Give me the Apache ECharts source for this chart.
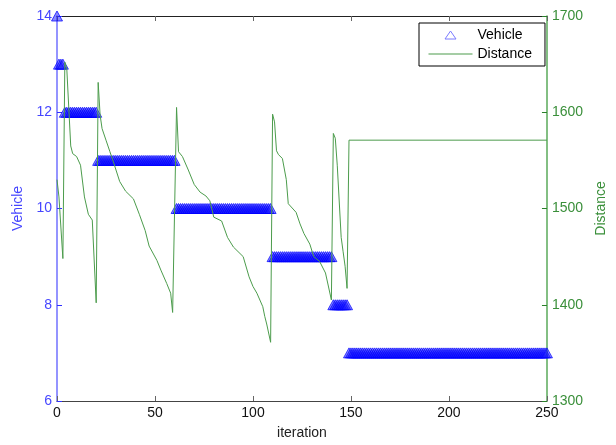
<!DOCTYPE html>
<html>
<head>
<meta charset="utf-8">
<script src="https://cdn.jsdelivr.net/npm/echarts@6/dist/echarts.min.js"></script>
<style>html,body{margin:0;padding:0;background:#fff}#c{width:616px;height:445px}</style>
</head>
<body>
<div id="c"></div>
<script>
// Vehicle step runs: [first iteration, last iteration, number of vehicles]
var vehicleRunStart = [0, 1, 4, 21, 61, 110, 141, 149];
var vehicleRunEnd   = [0, 3, 20, 60, 109, 140, 148, 250];
var vehicleRunValue = [14, 13, 12, 11, 10, 9, 8, 7];

// Distance curve
var distIter = [0, 1, 3, 4, 5, 6, 7, 8, 10, 12, 14, 16, 18, 20,
  21, 22, 23, 25, 27, 29, 32, 35, 39, 42, 45, 47, 51, 53, 56, 58, 59,
  61, 62, 64, 67, 70, 73, 76, 78, 80, 84, 87, 90, 95, 98, 100, 102, 105, 106, 107, 109,
  110, 111, 112, 113, 115, 117, 118, 122, 124, 126, 129, 131, 134, 137, 140,
  141, 142, 143, 145, 146, 147, 148, 149, 250];
var distValue = [1530, 1512, 1448, 1652, 1645, 1605, 1565, 1557, 1554, 1545, 1512, 1494, 1488, 1402,
  1631, 1597, 1583, 1571, 1559, 1547, 1528, 1518, 1510, 1494, 1477, 1461, 1446, 1436, 1422, 1412, 1392,
  1605, 1559, 1554, 1540, 1525, 1517, 1513, 1508, 1491, 1487, 1470, 1460, 1450, 1429, 1419, 1412, 1398, 1388, 1380, 1361,
  1598, 1590, 1560, 1556, 1552, 1530, 1505, 1496, 1484, 1474, 1463, 1450, 1445, 1433, 1405,
  1578, 1573, 1545, 1470, 1455, 1440, 1417, 1571, 1571];

var xTicks = [0, 50, 100, 150, 200, 250];
var vehicleTicks = [6, 8, 10, 12, 14];
var distanceTicks = [1300, 1400, 1500, 1600, 1700];

var vehicleData = [];
for (var r = 0; r < vehicleRunStart.length; r++) {
  for (var it = vehicleRunStart[r]; it <= vehicleRunEnd[r]; it++) vehicleData.push([it, vehicleRunValue[r]]);
}
var distData = distIter.map(function (x, i) { return [x, distValue[i]]; });

var FONT = 'Liberation Sans, Arial, sans-serif';
var BLUE = '#4646ff', GREEN = '#3a8f3a';

var chart = echarts.init(document.getElementById('c'), null, {renderer: 'canvas'});
chart.setOption({
  animation: false,
  backgroundColor: '#fff',
  grid: {left: 57, right: 66, top: 16, bottom: 39, containLabel: false},
  legend: {
    left: 419, top: 23, orient: 'vertical',
    padding: [5, 13, 5, 9], itemGap: 5,
    itemWidth: 44, itemHeight: 10,
    backgroundColor: '#fff', borderColor: '#000', borderWidth: 1, borderRadius: 0,
    textStyle: {fontFamily: FONT, fontSize: 14, color: '#000', lineHeight: 14},
    data: [
      {name: 'Vehicle', icon: 'path://M0,0 M44,10 M16.5,9 L22,1 L27.5,9 Z',
       itemStyle: {color: 'transparent', borderColor: '#7b7bff', borderWidth: 1}},
      {name: 'Distance', icon: 'path://M0,4.5 L44,4.5 L44,5.5 L0,5.5 Z',
       itemStyle: {color: '#4c9c4c', borderWidth: 0}}
    ]
  },
  xAxis: [{
    type: 'value', min: 0, max: 250, interval: 50, position: 'bottom',
    name: 'iteration', nameLocation: 'middle', nameGap: 25,
    nameTextStyle: {fontFamily: FONT, fontSize: 14, color: '#222'},
    axisLine: {onZero: false, lineStyle: {color: '#444', width: 1}},
    axisTick: {inside: true, length: 5, lineStyle: {color: '#666'}},
    axisLabel: {margin: 5, fontFamily: FONT, fontSize: 14, color: '#111',
      formatter: function (v) { return xTicks.indexOf(v) >= 0 ? String(v) : ''; }},
    splitLine: {show: false}
  }, {
    type: 'value', min: 0, max: 250, interval: 50, position: 'top',
    axisLine: {onZero: false, lineStyle: {color: '#222', width: 1}},
    axisTick: {inside: true, length: 5, lineStyle: {color: '#666'}},
    axisLabel: {show: false}, splitLine: {show: false}
  }],
  yAxis: [{
    type: 'value', min: 6, max: 14, interval: 2, position: 'left',
    name: 'Vehicle', nameLocation: 'middle', nameGap: 31, nameRotate: 90,
    nameTextStyle: {fontFamily: FONT, fontSize: 14, color: BLUE},
    axisLine: {show: true, onZero: false, lineStyle: {color: '#7070ff', width: 1.5}},
    axisTick: {show: true, inside: true, length: 5, lineStyle: {color: '#3030ff'}},
    axisLabel: {margin: 5, fontFamily: FONT, fontSize: 14, color: BLUE,
      formatter: function (v) { return vehicleTicks.indexOf(v) >= 0 ? String(v) : ''; }},
    splitLine: {show: false}
  }, {
    type: 'value', min: 1300, max: 1700, interval: 100, position: 'right',
    name: 'Distance', nameLocation: 'middle', nameGap: 44, nameRotate: 90,
    nameTextStyle: {fontFamily: FONT, fontSize: 14, color: GREEN},
    axisLine: {show: true, onZero: false, lineStyle: {color: '#5aaa5a', width: 1.5}},
    axisTick: {show: true, inside: true, length: 5, lineStyle: {color: '#2a7f2a'}},
    axisLabel: {margin: 5, fontFamily: FONT, fontSize: 14, color: GREEN,
      formatter: function (v) { return distanceTicks.indexOf(v) >= 0 ? String(v) : ''; }},
    splitLine: {show: false}
  }],
  series: [{
    name: 'Vehicle', type: 'scatter', xAxisIndex: 0, yAxisIndex: 0,
    data: vehicleData, symbol: 'triangle', symbolSize: [11, 10], clip: false,
    itemStyle: {color: 'rgba(20,20,255,0.5)', borderColor: 'rgba(0,0,255,0.9)', borderWidth: 0.8, opacity: 1},
    z: 2
  }, {
    name: 'Distance', type: 'line', xAxisIndex: 0, yAxisIndex: 1,
    data: distData, showSymbol: false, symbol: 'none', smooth: false,
    lineStyle: {color: '#4c9c4c', width: 1},
    itemStyle: {color: '#4c9c4c'},
    z: 3
  }]
});
</script>
</body>
</html>
